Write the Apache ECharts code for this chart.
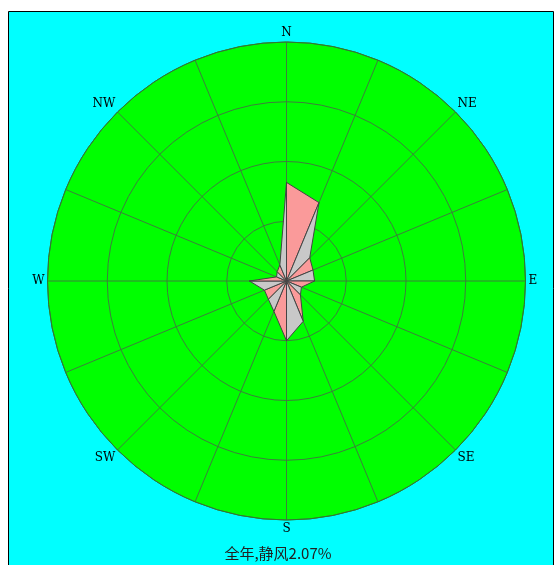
<!DOCTYPE html>
<html>
<head>
<meta charset="utf-8">
<script src="https://cdn.jsdelivr.net/npm/echarts@6/dist/echarts.min.js"></script>
<style>
  html, body { margin: 0; padding: 0; background: #fff; }
  #main { width: 556px; height: 565px; }
</style>
</head>
<body>
<div id="main"></div>
<script>
// 16 wind directions, clockwise from north
const directions = ["N", "NNE", "NE", "ENE", "E", "ESE", "SE", "SSE",
                    "S", "SSW", "SW", "WSW", "W", "WNW", "NW", "NNW"];
// frequency (%) per direction
const frequency = [16.5, 14.2, 5.5, 4.8, 4.7, 2.7, 3.3, 7.3,
                   10.0, 5.5, 4.3, 4.0, 6.2, 1.8, 2.2, 2.9];
const ringTicks = [0, 10, 20, 30, 40];
const calm = 2.07;
const titleText = "全年,静风" + calm.toFixed(2) + "%";

const step = 360 / directions.length;
const labelMap = { 0: "N", 45: "NE", 90: "E", 135: "SE", 180: "S", 225: "SW", 270: "W", 315: "NW" };

// one triangle per neighbour pair: centre, dir i, dir i+1
const triangles = directions.map(function (d, i) {
  const j = (i + 1) % directions.length;
  return [frequency[i], i * step, frequency[j], (i + 1) * step, i % 2];
});

const chart = echarts.init(document.getElementById("main"));
chart.setOption({
  backgroundColor: "#fff",
  animation: false,
  graphic: [
    {
      type: "rect",
      z: -10,
      silent: true,
      shape: { x: 8.5, y: 11.5, width: 545, height: 560 },
      style: { fill: "#00ffff", stroke: "#000", lineWidth: 1 },
    },
    {
      type: "circle",
      z: -5,
      silent: true,
      shape: { cx: 286.5, cy: 281, r: 239 },
      style: { fill: "#00ff00" },
    },
    {
      type: "text",
      left: "center",
      top: 546,
      style: {
        text: titleText,
        fill: "#222",
        font: '15px "Noto Sans CJK SC"',
      },
    },
  ],
  polar: {
    center: [286.5, 281],
    radius: 239,
  },
  angleAxis: {
    type: "value",
    min: 0,
    max: 360,
    interval: step,
    startAngle: 90,
    clockwise: true,
    axisLine: { show: true, lineStyle: { color: "#2f7a2f", width: 1 } },
    axisTick: { show: false },
    splitLine: { show: true, lineStyle: { color: "#3d7f3d", width: 1 } },
    axisLabel: {
      margin: 3,
      color: "#000",
      fontFamily: "DejaVu Serif",
      fontSize: 12,
      formatter: function (v) {
        if (v >= 360) return "";
        return labelMap[v] || "";
      },
    },
  },
  radiusAxis: {
    type: "value",
    min: ringTicks[0],
    max: ringTicks[ringTicks.length - 1],
    interval: ringTicks[1] - ringTicks[0],
    axisLine: { show: false },
    axisTick: { show: false },
    axisLabel: { show: false },
    splitLine: { show: true, lineStyle: { color: "#3d7f3d", width: 1 } },
  },
  series: [
    {
      type: "custom",
      coordinateSystem: "polar",
      data: triangles,
      renderItem: function (params, api) {
        const c = api.coord([0, 0]);
        const p1 = api.coord([api.value(0), api.value(1)]);
        const p2 = api.coord([api.value(2), api.value(3)]);
        return {
          type: "polygon",
          shape: { points: [c, p1, p2] },
          style: {
            fill: api.value(4) === 0 ? "#fa9a9a" : "#c8c8c8",
            stroke: "#444",
            lineWidth: 1,
          },
        };
      },
    },
  ],
});
</script>
</body>
</html>
